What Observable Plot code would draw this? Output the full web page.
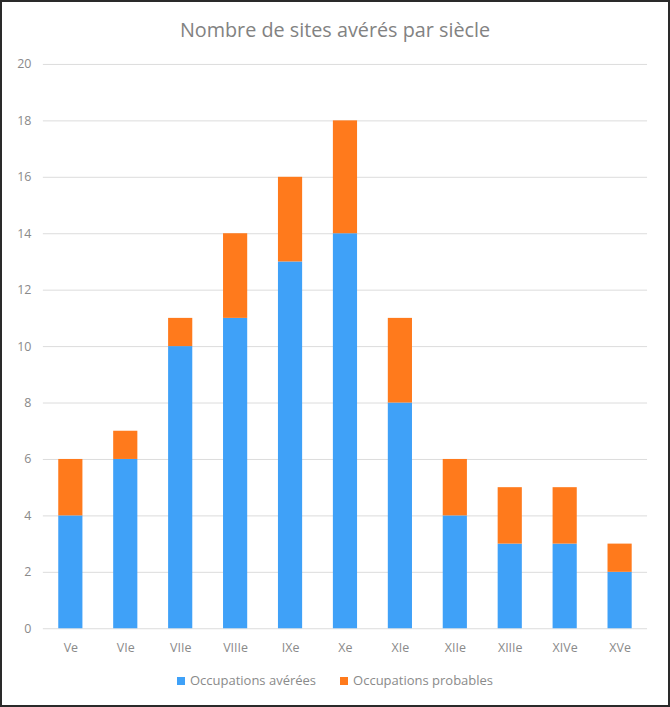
<!DOCTYPE html>
<html><head><meta charset="utf-8">
<script src="https://cdn.jsdelivr.net/npm/d3@7"></script>
<script src="https://cdn.jsdelivr.net/npm/@observablehq/plot@0.6"></script>
<style>
html,body{margin:0;padding:0;background:#fff;}
#frame{position:relative;width:670px;height:707px;box-sizing:border-box;border:2px solid #2a2a2a;background:#fff;font-family:"Open Sans",sans-serif;overflow:hidden;}
#title{position:absolute;left:0;right:0;top:14px;text-align:center;font-size:19.8px;color:#828282;}
#chart{position:absolute;left:-2px;top:43px;}
#legend{position:absolute;left:0;right:0;top:669px;text-align:center;font-size:13px;color:#8a8a8a;}
#legend span.sw{display:inline-block;width:8px;height:8px;margin-right:5px;vertical-align:0px;}
#legend .item{margin:0 12px;}
</style></head>
<body>
<div id="frame">
<div id="title">Nombre de sites avérés par siècle</div>
<div id="chart"></div>
<div id="legend"></div>
</div>
<script>
const siecles = ["Ve","VIe","VIIe","VIIIe","IXe","Xe","XIe","XIIe","XIIIe","XIVe","XVe"];
const averees = [4,6,10,11,13,14,8,4,3,3,2];
const probables = [2,1,1,3,3,4,3,2,2,2,1];
const series = ["Occupations avérées","Occupations probables"];
const colors = ["#3fa1f8","#ff7a1c"];
const yTicks = [0,2,4,6,8,10,12,14,16,18,20];

const data = [];
siecles.forEach((s,i)=>{
  data.push({siecle:s, serie:series[0], value:averees[i]});
  data.push({siecle:s, serie:series[1], value:probables[i]});
});

const plot = Plot.plot({
  width: 670,
  height: 622,
  marginLeft: 43,
  marginRight: 21,
  marginTop: 19,
  marginBottom: 37,
  style: {fontFamily: "'Open Sans', sans-serif", fontSize: "12.5px", color: "#8a8a8a", background: "transparent"},
  x: {domain: siecles, label: null, paddingInner: 0.56, paddingOuter: 0.28, round: false},
  y: {domain: [0,20], ticks: yTicks, label: null},
  color: {domain: series, range: colors},
  marks: [
    Plot.gridY(yTicks, {stroke: "#dcdcdc", strokeOpacity: 1}),
    Plot.barY(data, Plot.stackY({x: "siecle", y: "value", fill: "serie", order: series})),
    Plot.axisY(yTicks, {tickSize: 0, tickPadding: 12, fill: "#8a8a8a", fontSize: 12.5}),
    Plot.axisX({tickSize: 0, tickPadding: 14, fill: "#8a8a8a", fontSize: 12.5})
  ]
});
document.getElementById("chart").appendChild(plot);

const leg = document.getElementById("legend");
series.forEach((s,i)=>{
  const it = document.createElement("span");
  it.className = "item";
  const sw = document.createElement("span");
  sw.className = "sw";
  sw.style.background = colors[i];
  it.appendChild(sw);
  it.appendChild(document.createTextNode(s));
  leg.appendChild(it);
});
</script>
</body></html>
